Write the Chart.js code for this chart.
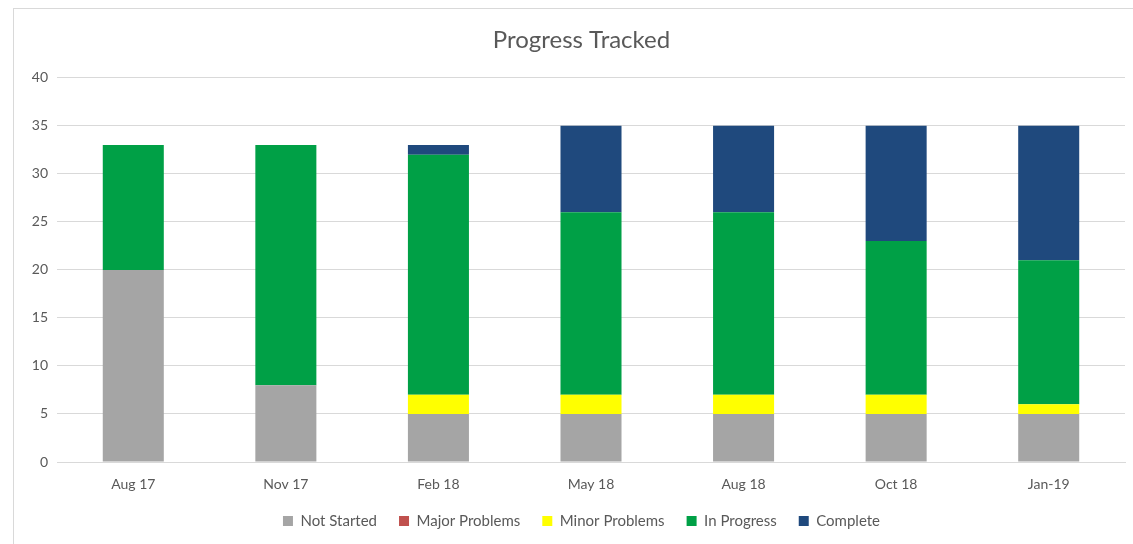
<!DOCTYPE html>
<html>
<head>
<meta charset="utf-8">
<script src="https://cdn.jsdelivr.net/npm/chart.js@4/dist/chart.umd.min.js"></script>
<style>
html,body{margin:0;padding:0;background:#fff;}
#wrap{position:absolute;left:0;top:0;width:1133px;height:544px;}
</style>
</head>
<body>
<div id="wrap"><canvas id="c" width="1133" height="544"></canvas></div>
<script>
const categories = ["Aug 17","Nov 17","Feb 18","May 18","Aug 18","Oct 18","Jan-19"];
const notStarted    = [20, 8, 5, 5, 5, 5, 5];
const majorProblems = [0, 0, 0, 0, 0, 0, 0];
const minorProblems = [0, 0, 2, 2, 2, 2, 1];
const inProgress    = [13, 25, 25, 19, 19, 16, 15];
const complete      = [0, 0, 1, 9, 9, 12, 14];
const yTicks = [0, 5, 10, 15, 20, 25, 30, 35, 40];

const borderPlugin = {
  id: 'outerBorder',
  beforeDraw(chart) {
    const ctx = chart.ctx;
    ctx.save();
    ctx.fillStyle = '#fff';
    ctx.fillRect(0, 0, chart.width, chart.height);
    ctx.strokeStyle = '#D9D9D9';
    ctx.lineWidth = 1;
    ctx.strokeRect(13.5, 8.5, 1131, 560);
    ctx.restore();
  }
};

const font = "Lato, 'Open Sans', sans-serif";
const mk = (label, data, color) => ({
  label, data, backgroundColor: color, borderWidth: 0,
  barPercentage: 0.4, categoryPercentage: 1.0
});

new Chart(document.getElementById('c'), {
  type: 'bar',
  data: {
    labels: categories,
    datasets: [
      mk('Not Started', notStarted, '#A5A5A5'),
      mk('Major Problems', majorProblems, '#C0504D'),
      mk('Minor Problems', minorProblems, '#FFFF00'),
      mk('In Progress', inProgress, '#00A046'),
      mk('Complete', complete, '#1F497D')
    ]
  },
  options: {
    responsive: false,
    animation: false,
    devicePixelRatio: 1,
    layout: { padding: { left: 30, right: 0, top: 16, bottom: 5.5 } },
    plugins: {
      title: {
        display: true, text: 'Progress Tracked', color: '#595959',
        font: { family: font, size: 24, weight: 'normal' },
        padding: { top: 10, bottom: 23 }
      },
      legend: {
        position: 'bottom',
        labels: {
          color: '#595959', boxWidth: 10, boxHeight: 10, padding: 22,
          font: { family: font, size: 15 }
        }
      },
      tooltip: { enabled: false }
    },
    scales: {
      x: {
        stacked: true,
        afterFit(scale) { scale.height = 29.5; },
        grid: { display: false, drawTicks: false },
        border: { display: true, color: '#D9D9D9' },
        ticks: { color: '#595959', font: { family: font, size: 14 }, padding: 14 }
      },
      y: {
        stacked: true,
        min: 0, max: 40,
        afterBuildTicks(scale) { scale.ticks = yTicks.map(v => ({ value: v })); },
        afterFit(scale) { scale.width = 27; },
        grid: { color: '#D9D9D9', drawTicks: false },
        border: { display: false },
        ticks: { color: '#595959', font: { family: font, size: 14 }, padding: 9 }
      },
      yRight: {
        type: 'linear',
        position: 'right',
        display: true,
        afterFit(scale) { scale.width = 8; },
        grid: { display: false, drawTicks: false },
        border: { display: false },
        ticks: { display: false }
      }
    }
  },
  plugins: [borderPlugin]
});
</script>
</body>
</html>
